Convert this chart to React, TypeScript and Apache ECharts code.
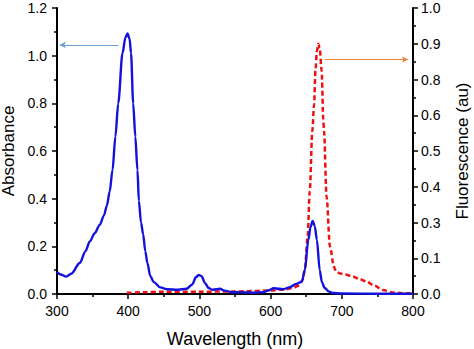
import React, { useEffect, useRef } from "react";
import * as echarts from "echarts";

// Absorbance (left axis) — [wavelength nm, absorbance]
const absorbance: [number, number][] = [
  [300, 0.093], [305, 0.082], [313, 0.073], [320, 0.085], [332, 0.13], [340, 0.18],
  [346, 0.22], [353, 0.255], [360, 0.29], [366, 0.33], [370, 0.37], [374, 0.43],
  [378, 0.52], [382, 0.66], [386, 0.8], [392, 1.01], [396, 1.075], [399, 1.093],
  [402, 1.07], [404, 1.01], [407, 0.8], [410, 0.66], [413, 0.52], [415, 0.39],
  [418, 0.3], [421, 0.25], [424, 0.18], [427, 0.13], [431, 0.075], [436, 0.05],
  [445, 0.028], [455, 0.02], [470, 0.018], [482, 0.022], [490, 0.04], [495, 0.07],
  [499, 0.08], [503, 0.075], [508, 0.045], [513, 0.025], [518, 0.018], [524, 0.02],
  [529, 0.022], [535, 0.014], [545, 0.008], [560, 0.007], [575, 0.005], [590, 0.008],
  [598, 0.016], [604, 0.024], [612, 0.022], [618, 0.02], [626, 0.028], [636, 0.042],
  [644, 0.052], [648, 0.1], [653, 0.227], [656, 0.28], [659, 0.307], [662, 0.285],
  [665, 0.227], [669, 0.1], [672, 0.05], [676, 0.025], [682, 0.01], [688, 0.004],
  [700, 0.002], [750, 0.001], [800, 0.001],
];

// Fluorescence (right axis) — [wavelength nm, fluorescence au]
const fluorescence: [number, number][] = [
  [398, 0.004], [420, 0.006], [450, 0.008], [500, 0.008], [550, 0.009], [600, 0.012],
  [620, 0.016], [632, 0.022], [638, 0.028], [641, 0.033], [645, 0.05], [648, 0.084],
  [652, 0.2], [655, 0.36], [658.6, 0.57], [661, 0.66], [663, 0.78], [665, 0.85],
  [667, 0.875], [669, 0.86], [671.7, 0.78], [674, 0.61], [675, 0.57], [678.6, 0.34],
  [683.4, 0.165], [689, 0.095], [692, 0.078], [697.5, 0.072], [705, 0.068], [716, 0.06],
  [725, 0.052], [735, 0.043], [745, 0.03], [758, 0.014], [772, 0.005], [785, 0.003],
  [800, 0.003],
];

// Right axis tick labels (as printed on the reference)
const rightTickLabels = ["0.0", "0.1", "0.3", "0.4", "0.5", "0.6", "0.8", "0.9", "1.0"];

// Arrow annotations: [x, y] in data coords
const absArrow: [number, number][] = [[386, 1.045], [304, 1.045]];
const fluArrow: [number, number][] = [[676, 0.82], [793, 0.82]];

const FONT = "Liberation Sans";

export default function App() {
  const ref = useRef<HTMLDivElement>(null);
  useEffect(() => {
    if (!ref.current) return;
    const chart = echarts.init(ref.current, undefined, { renderer: "svg" });
    const axisCommon = {
      axisLine: { show: true, lineStyle: { color: "#000", width: 2 } },
      axisTick: { show: true, length: 5, lineStyle: { color: "#000", width: 1.5 } },
      minorTick: { show: true, splitNumber: 2, length: 3, lineStyle: { color: "#000", width: 1.5 } },
      splitLine: { show: false },
      nameTextStyle: { fontFamily: FONT, fontSize: 17, color: "#000" },
    };
    chart.setOption({
      animation: false,
      backgroundColor: "#fff",
      grid: { left: 57, right: 61, top: 8, bottom: 55, containLabel: false, outerBoundsMode: "none" },
      xAxis: {
        type: "value",
        min: 300,
        max: 800,
        interval: 100,
        name: "Wavelength (nm)",
        nameLocation: "middle",
        nameGap: 36,
        ...axisCommon,
        nameTextStyle: { fontFamily: FONT, fontSize: 18, color: "#000" },
        axisLabel: { fontFamily: FONT, fontSize: 14, color: "#000", margin: 10 },
      },
      yAxis: [
        {
          type: "value",
          position: "left",
          min: 0,
          max: 1.2,
          interval: 0.2,
          name: "Absorbance",
          nameLocation: "middle",
          nameGap: 39,
          ...axisCommon,
          axisLabel: {
            fontFamily: FONT,
            fontSize: 14,
            color: "#000",
            margin: 10,
            formatter: (v: number) => v.toFixed(1),
          },
        },
        {
          type: "value",
          position: "right",
          min: 0,
          max: 1,
          interval: 0.125,
          name: "Fluorescence (au)",
          nameLocation: "middle",
          nameGap: 41,
          nameRotate: 90,
          ...axisCommon,
          axisLabel: {
            fontFamily: FONT,
            fontSize: 14,
            color: "#000",
            margin: 8,
            formatter: (_v: number, i: number) => rightTickLabels[i] ?? "",
          },
        },
      ],
      series: [
        {
          type: "line",
          yAxisIndex: 0,
          data: absorbance,
          smooth: 0.3,
          smoothMonotone: "x",
          showSymbol: false,
          lineStyle: { color: "#1212dc", width: 2.4 },
          z: 3,
          markLine: {
            silent: true,
            symbol: ["none", "arrow"],
            symbolSize: [5, 6],
            label: { show: false },
            lineStyle: { color: "#6a9fd6", width: 1.2, type: "solid" },
            data: [[{ coord: absArrow[0] }, { coord: absArrow[1] }]],
          },
        },
        {
          type: "line",
          yAxisIndex: 1,
          data: fluorescence,
          smooth: 0.3,
          smoothMonotone: "x",
          showSymbol: false,
          lineStyle: { color: "#ee1111", width: 2.5, type: [5, 3] },
          z: 2,
          markLine: {
            silent: true,
            symbol: ["none", "arrow"],
            symbolSize: [5, 6],
            label: { show: false },
            lineStyle: { color: "#f0823c", width: 1.2, type: "solid" },
            data: [[{ coord: fluArrow[0] }, { coord: fluArrow[1] }]],
          },
        },
      ],
    });
    return () => chart.dispose();
  }, []);
  return (
    <div
      ref={ref}
      style={{ position: "fixed", left: 0, top: 0, width: 474, height: 349 }}
    />
  );
}
